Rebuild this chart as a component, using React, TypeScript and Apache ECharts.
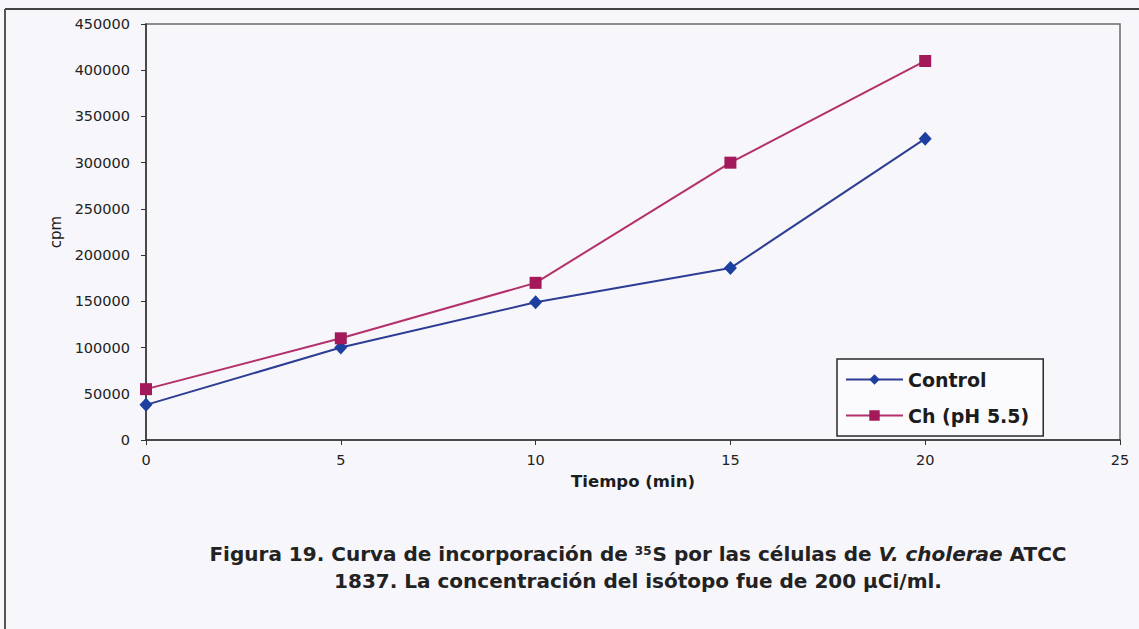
import React, { useEffect, useRef } from "react";
import * as echarts from "echarts";

// Sampling times (min) and measured counts (cpm)
const timeMin = [0, 5, 10, 15, 20];
const controlCpm = [38000, 100000, 149000, 186000, 326000];
const chCpm = [55000, 110000, 170000, 300000, 410000];

const seriesNames = ["Control", "Ch (pH 5.5)"];

// Axis ranges
const xMin = 0;
const xMax = 25;
const xStep = 5;
const yMin = 0;
const yMax = 450000;
const yStep = 50000;

const captionLine1 = [
  "Figura 19. Curva de incorporación de ",
  "35",
  "S por las células de ",
  "V. cholerae",
  " ATCC",
];
const captionLine2 = "1837. La concentración del isótopo fue de 200 µCi/ml.";

const PAGE_BG = "#f7f6fb";
const FONT = "DejaVu Sans";
const INK = "#1c1c1c";

export default function App() {
  const ref = useRef<HTMLDivElement>(null);

  useEffect(() => {
    if (!ref.current) return;
    const chart = echarts.init(ref.current, undefined, { renderer: "svg" });

    const pairs = (ys: number[]) => timeMin.map((t, i) => [t, ys[i]]);

    const captionText =
      `{a|${captionLine1[0]}}{sup|${captionLine1[1]}}{a|${captionLine1[2]}}` +
      `{i|${captionLine1[3]}}{a|${captionLine1[4]}}\n{a|${captionLine2}}`;

    const tickLabel = {
      fontFamily: FONT,
      fontSize: 14.5,
      fontWeight: "normal",
      color: "#222",
    };

    chart.setOption({
      animation: false,
      backgroundColor: PAGE_BG,
      textStyle: { fontFamily: FONT },
      grid: {
        left: 146,
        top: 24,
        right: 19,
        bottom: 189,
        show: true,
        borderColor: "#6a6a6a",
        borderWidth: 1.5,
        backgroundColor: "transparent",
      },
      xAxis: {
        type: "value",
        min: xMin,
        max: xMax,
        interval: xStep,
        name: "Tiempo (min)",
        nameLocation: "middle",
        nameGap: 33,
        nameTextStyle: {
          fontFamily: FONT,
          fontSize: 16.5,
          fontWeight: "bold",
          color: INK,
        },
        axisLine: { show: true, lineStyle: { color: "#333", width: 1.5 } },
        axisTick: { show: true, length: 5, inside: false, lineStyle: { color: "#333" } },
        axisLabel: { ...tickLabel, margin: 12 },
        splitLine: { show: false },
      },
      yAxis: {
        type: "value",
        min: yMin,
        max: yMax,
        interval: yStep,
        name: "cpm",
        nameLocation: "middle",
        nameRotate: 90,
        nameGap: 80,
        nameTextStyle: {
          fontFamily: FONT,
          fontSize: 15,
          fontWeight: "normal",
          color: INK,
        },
        axisLine: { show: true, lineStyle: { color: "#333", width: 1.5 } },
        axisTick: { show: true, length: 5, inside: false, lineStyle: { color: "#333" } },
        axisLabel: {
          ...tickLabel,
          margin: 16,
          formatter: (v: number) => String(v),
        },
        splitLine: { show: false },
      },
      legend: {
        orient: "vertical",
        left: 837,
        top: 359,
        padding: [11, 14, 11, 8],
        itemGap: 17,
        itemWidth: 57,
        itemHeight: 13,
        backgroundColor: "#fbfbfd",
        borderColor: "#2a2a2a",
        borderWidth: 1.5,
        borderRadius: 0,
        data: seriesNames,
        textStyle: {
          fontFamily: FONT,
          fontSize: 19,
          fontWeight: "bold",
          color: INK,
        },
      },
      series: [
        {
          name: seriesNames[0],
          type: "line",
          data: pairs(controlCpm),
          symbol: "diamond",
          symbolSize: [13, 14],
          lineStyle: { color: "#2c3d93", width: 2 },
          itemStyle: { color: "#1d3f9f", borderWidth: 0 },
          z: 3,
        },
        {
          name: seriesNames[1],
          type: "line",
          data: pairs(chCpm),
          symbol: "rect",
          symbolSize: 12,
          lineStyle: { color: "#b3306b", width: 2 },
          itemStyle: { color: "#a3195a", borderWidth: 0 },
          z: 4,
        },
      ],
      graphic: [
        // page frame edges
        {
          type: "line",
          shape: { x1: 5, y1: 9, x2: 1139, y2: 9 },
          style: { stroke: "#444", lineWidth: 2 },
          silent: true,
        },
        {
          type: "line",
          shape: { x1: 5, y1: 9, x2: 5, y2: 629 },
          style: { stroke: "#555", lineWidth: 2 },
          silent: true,
        },
        {
          type: "text",
          x: 638,
          y: 567,
          silent: true,
          style: {
            text: captionText,
            align: "center",
            verticalAlign: "middle",
            fill: INK,
            rich: {
              a: {
                fontFamily: FONT,
                fontSize: 20,
                fontWeight: "bold",
                lineHeight: 27,
                fill: "#222",
              },
              i: {
                fontFamily: FONT,
                fontSize: 20,
                fontWeight: "bold",
                fontStyle: "italic",
                lineHeight: 27,
                fill: "#222",
              },
              sup: {
                fontFamily: FONT,
                fontSize: 12,
                fontWeight: "bold",
                verticalAlign: "top",
                padding: [5, 1, 0, 0],
                fill: "#222",
              },
            },
          },
        },
      ],
    });

    return () => chart.dispose();
  }, []);

  return (
    <div
      ref={ref}
      style={{
        position: "fixed",
        left: 0,
        top: 0,
        width: 1139,
        height: 629,
        background: PAGE_BG,
      }}
    />
  );
}
